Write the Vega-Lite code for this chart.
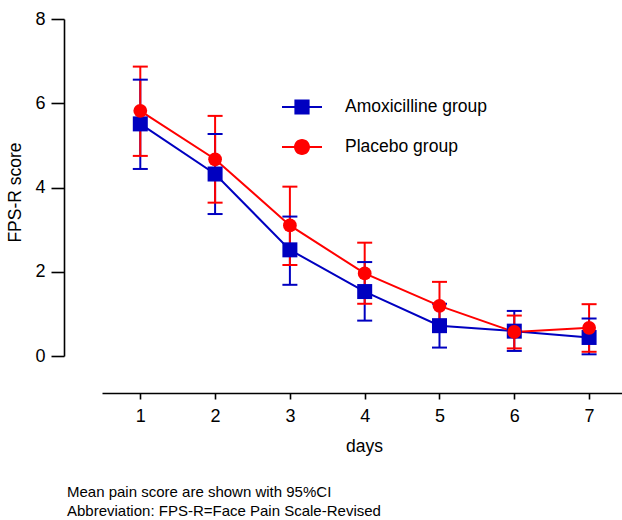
{
  "$schema": "https://vega.github.io/schema/vega-lite/v6.json",
  "autosize": "none",
  "width": 520,
  "height": 337,
  "padding": {"left": 102, "top": 19, "right": 0, "bottom": 164},
  "background": "white",
  "config": {
    "view": {"stroke": null},
    "font": "Liberation Sans",
    "axis": {"grid": false, "domainColor": "black", "tickColor": "black", "domainWidth": 1.6, "tickWidth": 1.6, "labelColor": "black", "titleColor": "black", "labelFont": "Liberation Sans", "titleFont": "Liberation Sans", "labelFontSize": 18, "titleFontSize": 17.5, "titleFontWeight": "normal"}
  },
  "title": {
    "text": ["Mean pain score are shown with 95%CI", "Abbreviation: FPS-R=Face Pain Scale-Revised"],
    "orient": "bottom", "anchor": "start", "frame": "group", "align": "left",
    "fontSize": 15, "fontWeight": "normal", "font": "Liberation Sans", "color": "black",
    "lineHeight": 19, "offset": 30, "dx": -35
  },
  "data": {
    "values": [
      {"day": 1, "group": "Amoxicilline group", "mean": 5.51, "lo": 4.44, "hi": 6.56},
      {"day": 2, "group": "Amoxicilline group", "mean": 4.32, "lo": 3.37, "hi": 5.27},
      {"day": 3, "group": "Amoxicilline group", "mean": 2.52, "lo": 1.69, "hi": 3.31},
      {"day": 4, "group": "Amoxicilline group", "mean": 1.53, "lo": 0.84, "hi": 2.23},
      {"day": 5, "group": "Amoxicilline group", "mean": 0.72, "lo": 0.20, "hi": 1.24},
      {"day": 6, "group": "Amoxicilline group", "mean": 0.59, "lo": 0.12, "hi": 1.07},
      {"day": 7, "group": "Amoxicilline group", "mean": 0.44, "lo": 0.04, "hi": 0.89},
      {"day": 1, "group": "Placebo group", "mean": 5.82, "lo": 4.75, "hi": 6.87},
      {"day": 2, "group": "Placebo group", "mean": 4.67, "lo": 3.64, "hi": 5.70},
      {"day": 3, "group": "Placebo group", "mean": 3.10, "lo": 2.16, "hi": 4.02},
      {"day": 4, "group": "Placebo group", "mean": 1.96, "lo": 1.24, "hi": 2.69},
      {"day": 5, "group": "Placebo group", "mean": 1.19, "lo": 0.62, "hi": 1.76},
      {"day": 6, "group": "Placebo group", "mean": 0.57, "lo": 0.18, "hi": 0.96},
      {"day": 7, "group": "Placebo group", "mean": 0.67, "lo": 0.10, "hi": 1.23}
    ]
  },
  "encoding": {
    "x": {
      "field": "day", "type": "quantitative",
      "scale": {"domain": [0.488, 7.44], "nice": false, "zero": false},
      "axis": {"values": [1, 2, 3, 4, 5, 6, 7], "format": "d", "offset": 37, "tickSize": 6, "labelPadding": 8, "title": "days", "titleX": 262, "titleY": 58, "titleBaseline": "alphabetic", "titleAnchor": null}
    },
    "color": {
      "field": "group", "type": "nominal",
      "scale": {"domain": ["Amoxicilline group", "Placebo group"], "range": ["#0000C0", "#FF0000"]},
      "legend": {
        "orient": "none", "legendX": 180, "legendY": 68, "title": null,
        "symbolSize": 1600, "labelFontSize": 17.5, "labelFont": "Liberation Sans", "labelColor": "black",
        "labelOffset": 23, "rowPadding": 11, "symbolStrokeWidth": 0, "padding": 0,
        "symbolType": "M-1,-0.05H1V0.05H-1Z M-0.38,-0.38H0.38V0.38H-0.38Z",
        "encode": {
          "symbols": {
            "update": {
              "shape": {"signal": "datum.value === 'Placebo group' ? 'M-1,-0.05H1V0.05H-1Z M-0.4,0A0.4,0.4,0,1,1,0.4,0A0.4,0.4,0,1,1,-0.4,0Z' : 'M-1,-0.05H1V0.05H-1Z M-0.38,-0.38H0.38V0.38H-0.38Z'"},
              "fill": {"signal": "datum.value === 'Placebo group' ? '#FF0000' : '#0000C0'"},
              "stroke": {"value": "transparent"},
              "opacity": {"value": 1}
            }
          }
        }
      }
    }
  },
  "layer": [
    {
      "mark": {"type": "rule", "strokeWidth": 2},
      "encoding": {
        "y": {"field": "lo", "type": "quantitative"},
        "y2": {"field": "hi"}
      }
    },
    {
      "mark": {"type": "tick", "orient": "horizontal", "size": 15, "thickness": 2, "opacity": 1},
      "encoding": {"y": {"field": "lo", "type": "quantitative"}}
    },
    {
      "mark": {"type": "tick", "orient": "horizontal", "size": 15, "thickness": 2, "opacity": 1},
      "encoding": {"y": {"field": "hi", "type": "quantitative"}}
    },
    {
      "mark": {"type": "line", "strokeWidth": 2},
      "encoding": {"y": {"field": "mean", "type": "quantitative"}}
    },
    {
      "transform": [{"filter": "datum.group === 'Amoxicilline group'"}],
      "mark": {"type": "point", "shape": "square", "size": 225, "filled": true, "opacity": 1},
      "encoding": {"y": {"field": "mean", "type": "quantitative"}}
    },
    {
      "transform": [{"filter": "datum.group === 'Placebo group'"}],
      "mark": {"type": "point", "shape": "circle", "size": 190, "filled": true, "opacity": 1},
      "encoding": {
        "y": {
          "field": "mean", "type": "quantitative",
          "scale": {"domain": [0, 8], "nice": false},
          "axis": {"values": [0, 2, 4, 6, 8], "offset": 38, "tickSize": 13, "labelPadding": 6, "title": "FPS-R score", "titleX": -44, "titleY": 173, "titleAngle": -90, "titleBaseline": "alphabetic", "titleAnchor": null}
        }
      }
    }
  ]
}
